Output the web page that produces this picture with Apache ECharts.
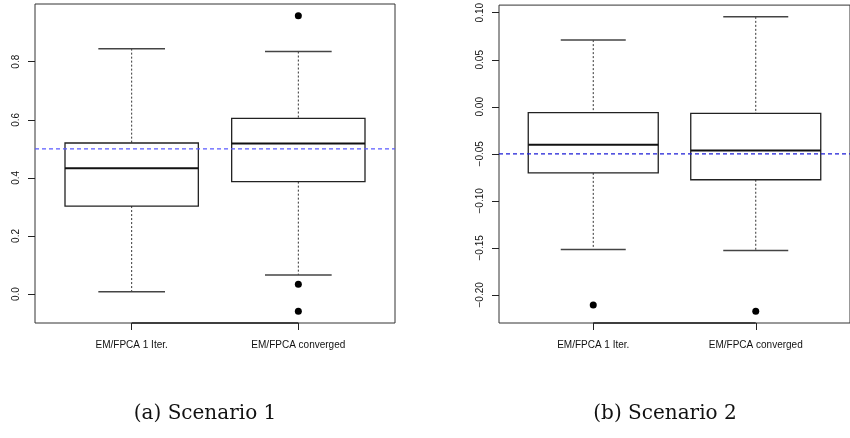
<!DOCTYPE html>
<html>
<head>
<meta charset="utf-8">
<script src="https://cdn.jsdelivr.net/npm/echarts@6/dist/echarts.min.js"></script>
<style>
  html, body { margin: 0; padding: 0; background: #fff; }
  #chart { width: 850px; height: 438px; }
</style>
</head>
<body>
<div id="chart"></div>
<script>
// Methods compared in each scenario
const categories = ['EM/FPCA 1 Iter.', 'EM/FPCA converged'];

// Five-number summaries: [lower whisker, Q1, median, Q3, upper whisker]
const scenario1Boxes = [
  [0.008, 0.303, 0.433, 0.520, 0.845],
  [0.066, 0.387, 0.518, 0.605, 0.835]
];
// Outliers: [method position, value]
const scenario1Outliers = [[2, 0.958], [2, 0.034], [2, -0.059]];
const scenario1Reference = 0.5;
const scenario1Ticks = [0, 0.2, 0.4, 0.6, 0.8];

const scenario2Boxes = [
  [-0.1517, -0.0703, -0.0404, -0.0063, 0.0709],
  [-0.1528, -0.0776, -0.0464, -0.0070, 0.0956]
];
const scenario2Outliers = [[1, -0.2107], [2, -0.2174]];
const scenario2Reference = -0.05;
const scenario2Ticks = [-0.20, -0.15, -0.10, -0.05, 0.00, 0.05, 0.10];

const captions = ['(a) Scenario 1', '(b) Scenario 2'];

// R-style axis range: data range extended by 4% on each side
function paddedRange(boxes, outliers) {
  const vals = [];
  boxes.forEach(b => vals.push(...b));
  outliers.forEach(o => vals.push(o[1]));
  const lo = Math.min(...vals), hi = Math.max(...vals);
  const pad = (hi - lo) * 0.04;
  return [lo - pad, hi + pad];
}

const range1 = paddedRange(scenario1Boxes, scenario1Outliers);
const range2 = paddedRange(scenario2Boxes, scenario2Outliers);
const xRange = [0.42, 2.58];

const axisFont = { fontFamily: 'Liberation Sans, Arial, sans-serif', fontSize: 10, color: '#111' };

function fmtTick(decimals) {
  return v => v.toFixed(decimals).replace('-', '\u2212');
}

function xAxisFor(i) {
  return {
    type: 'value', gridIndex: i, min: xRange[0], max: xRange[1],
    splitLine: { show: false },
    axisLine: { show: false, onZero: false },
    axisTick: { show: true, customValues: [1, 2], length: 7, lineStyle: { color: '#222', width: 1 } },
    axisLabel: Object.assign({ customValues: [1, 2], margin: 17,
      formatter: v => categories[Math.round(v) - 1] }, axisFont)
  };
}

function yAxisFor(i, range, ticks, decimals) {
  return {
    type: 'value', gridIndex: i, min: range[0], max: range[1],
    splitLine: { show: false },
    axisLine: { show: false, onZero: false },
    axisTick: { show: true, customValues: ticks, length: 7, lineStyle: { color: '#222', width: 1 } },
    axisLabel: Object.assign({ customValues: ticks, rotate: 90, margin: 14,
      formatter: fmtTick(decimals) }, axisFont)
  };
}

// Box with dashed whiskers, solid caps and a heavier median line
function boxRenderer(params, api) {
  const x = api.value(0);
  const lo = api.value(1), q1 = api.value(2), med = api.value(3), q3 = api.value(4), hi = api.value(5);
  const hw = 0.4, cw = 0.2;
  const pLo = api.coord([x, lo]), pQ1 = api.coord([x, q1]), pQ3 = api.coord([x, q3]), pHi = api.coord([x, hi]);
  const boxL = api.coord([x - hw, q3]), boxR = api.coord([x + hw, q1]);
  const medL = api.coord([x - hw, med]), medR = api.coord([x + hw, med]);
  const capLoL = api.coord([x - cw, lo]), capLoR = api.coord([x + cw, lo]);
  const capHiL = api.coord([x - cw, hi]), capHiR = api.coord([x + cw, hi]);
  const whisk = { stroke: '#333', lineWidth: 1, lineDash: [2, 2] };
  return {
    type: 'group',
    children: [
      { type: 'line', shape: { x1: pHi[0], y1: pHi[1], x2: pQ3[0], y2: pQ3[1] }, style: whisk },
      { type: 'line', shape: { x1: pQ1[0], y1: pQ1[1], x2: pLo[0], y2: pLo[1] }, style: whisk },
      { type: 'line', shape: { x1: capHiL[0], y1: capHiL[1], x2: capHiR[0], y2: capHiR[1] }, style: { stroke: '#444', lineWidth: 1.5 } },
      { type: 'line', shape: { x1: capLoL[0], y1: capLoL[1], x2: capLoR[0], y2: capLoR[1] }, style: { stroke: '#444', lineWidth: 1.5 } },
      { type: 'rect', shape: { x: boxL[0], y: boxL[1], width: boxR[0] - boxL[0], height: boxR[1] - boxL[1] },
        style: { fill: '#fff', stroke: '#222', lineWidth: 1.3 } },
      { type: 'line', shape: { x1: medL[0], y1: medL[1], x2: medR[0], y2: medR[1] }, style: { stroke: '#111', lineWidth: 2 } }
    ]
  };
}

// Axis segment joining the two category ticks along the bottom frame
function axisSegment(range) {
  return function (params, api) {
    const a = api.coord([1, range[0]]), b = api.coord([2, range[0]]);
    return { type: 'line', shape: { x1: a[0], y1: a[1], x2: b[0], y2: b[1] }, style: { stroke: '#222', lineWidth: 1.5 } };
  };
}

// Dashed horizontal reference line across the whole plot region
function referenceLine(color) {
  return function (params, api) {
    const y = api.value(0);
    const a = api.coord([xRange[0], y]), b = api.coord([xRange[1], y]);
    return { type: 'line', shape: { x1: a[0], y1: a[1], x2: b[0], y2: b[1] },
      style: { stroke: color, lineWidth: 1.2, lineDash: [4, 3] } };
  };
}

function boxData(boxes) {
  return boxes.map((b, i) => [i + 1].concat(b));
}

function seriesFor(i, boxes, outliers, reference, range, refColor) {
  return [
    {
      type: 'custom', xAxisIndex: i, yAxisIndex: i, renderItem: boxRenderer,
      data: boxData(boxes), z: 2,
      encode: { x: 0, y: [1, 2, 3, 4, 5] }
    },
    {
      type: 'custom', xAxisIndex: i, yAxisIndex: i, renderItem: referenceLine(refColor),
      data: [[reference]], encode: { y: 0 }, z: 3
    },
    {
      type: 'scatter', xAxisIndex: i, yAxisIndex: i, data: outliers,
      symbol: 'circle', symbolSize: 7, itemStyle: { color: '#000', opacity: 1 }, z: 4
    },
    {
      type: 'custom', xAxisIndex: i, yAxisIndex: i, renderItem: axisSegment(range),
      data: [[1, range[0]]], z: 5, clip: false
    }
  ];
}

const chart = echarts.init(document.getElementById('chart'), null, { renderer: 'canvas' });
chart.setOption({
  backgroundColor: '#fff',
  animation: false,
  title: [
    { text: captions[0], left: 200, top: 399, textAlign: 'center',
      textStyle: { fontFamily: 'DejaVu Serif, serif', fontWeight: 'normal', fontSize: 20, color: '#111' } },
    { text: captions[1], left: 660, top: 399, textAlign: 'center',
      textStyle: { fontFamily: 'DejaVu Serif, serif', fontWeight: 'normal', fontSize: 20, color: '#111' } }
  ],
  grid: [
    { left: 35, top: 4, width: 360, height: 319, show: true, borderColor: '#333', borderWidth: 1, backgroundColor: 'transparent' },
    { left: 499, top: 4, width: 360, height: 319, show: true, borderColor: '#333', borderWidth: 1, backgroundColor: 'transparent' }
  ],
  xAxis: [xAxisFor(0), xAxisFor(1)],
  yAxis: [yAxisFor(0, range1, scenario1Ticks, 1), yAxisFor(1, range2, scenario2Ticks, 2)],
  series: []
    .concat(seriesFor(0, scenario1Boxes, scenario1Outliers, scenario1Reference, range1, '#5a5aff'))
    .concat(seriesFor(1, scenario2Boxes, scenario2Outliers, scenario2Reference, range2, '#1c1cd6'))
});
</script>
</body>
</html>
